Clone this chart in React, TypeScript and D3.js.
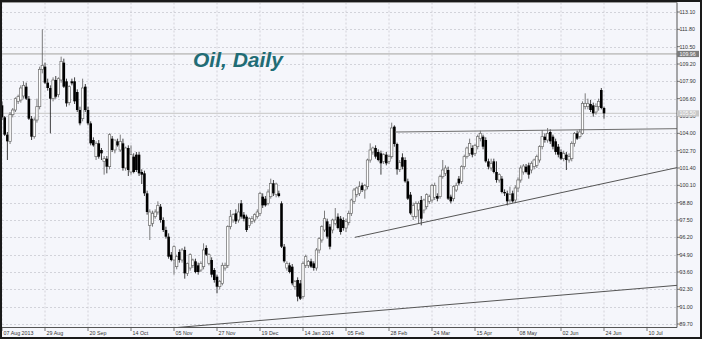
import React from 'react';
import * as d3 from 'd3';

const priceTicks = [113.1, 111.8, 110.5, 109.2, 107.9, 106.6, 105.3, 104.0, 102.7, 101.4, 100.1, 98.8, 97.5, 96.2, 94.9, 93.6, 92.3, 91.0, 89.7];
const dateLabels = ['07 Aug 2013', '29 Aug', '20 Sep', '14 Oct', '05 Nov', '27 Nov', '19 Dec', '14 Jan 2014', '05 Feb', '28 Feb', '24 Mar', '15 Apr', '08 May', '02 Jun', '24 Jun', '10 Jul'];
const dateBars = [0, 16, 32, 48, 64, 80, 96, 112, 128, 144, 160, 176, 192, 208, 224, 240];

const opens = [
  106.1, 105.2, 103.9, 103.4, 105.4, 105.75, 106.4, 106.5, 106.8, 107.5, 106.6, 105.1, 103.75, 105.0, 106.0, 108.8, 109.0, 107.8, 107.4, 106.6,
  108.0, 106.9, 108.0, 109.3, 107.9, 106.3, 107.9, 107.9, 107.1, 105.75, 105.1, 107.5, 105.75, 104.75, 103.5, 102.25, 103.25, 102.75, 101.9, 102.1,
  101.5, 103.6, 102.75, 103.4, 102.75, 103.25, 101.4, 102.9, 101.1, 102.25, 102.4, 102.4, 101.1, 101.0, 99.5, 97.1, 97.25, 97.75, 98.1, 98.5,
  97.5, 96.75, 96.25, 94.9, 94.5, 94.0, 95.1, 94.5, 95.25, 93.5, 93.9, 94.1, 94.4, 94.1, 93.75, 94.0, 95.4, 94.25, 94.5, 93.75,
  93.25, 92.5, 92.75, 93.9, 94.1, 97.0, 97.5, 98.0, 97.5, 98.75, 97.9, 97.75, 97.1, 97.4, 97.5, 97.75, 98.0, 99.25, 99.1, 98.75,
  99.25, 100.25, 99.4, 99.5, 98.75, 95.5, 93.9, 94.1, 94.0, 92.5, 93.0, 92.75, 91.75, 94.1, 94.1, 94.4, 94.25, 93.9, 95.25, 96.0,
  96.75, 97.4, 97.0, 96.75, 97.25, 97.75, 97.6, 97.5, 96.9, 97.3, 98.0, 98.9, 99.4, 99.5, 100.1, 99.75, 100.0, 102.0, 102.6, 102.9,
  102.6, 102.5, 101.9, 102.4, 101.9, 102.25, 104.5, 103.2, 101.3, 102.2, 102.0, 100.4, 99.4, 97.75, 97.75, 98.25, 99.0, 98.25, 98.5, 98.9,
  99.0, 99.2, 99.3, 99.25, 100.75, 101.0, 101.25, 99.25, 99.1, 99.75, 100.6, 100.4, 101.5, 102.25, 102.5, 102.9, 102.5, 103.0, 103.6, 103.75,
  103.5, 101.9, 101.4, 101.9, 101.1, 100.5, 100.6, 99.6, 99.5, 99.0, 99.5, 99.0, 99.9, 100.5, 101.1, 101.5, 101.6, 101.25, 101.5, 101.6,
  102.0, 103.0, 103.75, 103.5, 104.1, 103.75, 103.4, 103.0, 102.6, 102.1, 102.4, 102.0, 102.1, 103.25, 104.0, 103.75, 104.0, 106.0, 106.0, 106.2,
  106.1, 105.6, 106.0, 107.25, 105.9
];
const highs = [
  106.4, 105.3, 104.1, 105.6, 105.9, 106.7, 106.9, 107.6, 107.9, 107.8, 106.8, 105.3, 105.2, 106.6, 109.0, 111.8, 109.3, 108.1, 107.6, 108.2,
  108.3, 108.2, 109.75, 109.6, 108.1, 107.6, 108.1, 108.2, 107.3, 106.0, 108.1, 107.7, 106.0, 104.9, 103.7, 103.4, 103.5, 102.9, 102.3, 102.3,
  104.0, 103.8, 103.5, 103.6, 103.9, 103.6, 103.0, 103.1, 103.1, 102.5, 102.6, 102.6, 101.3, 101.2, 99.7, 98.3, 98.2, 98.3, 98.9, 98.7,
  97.7, 97.0, 96.5, 95.1, 95.6, 94.9, 95.3, 95.4, 95.5, 94.3, 95.0, 94.6, 94.6, 94.3, 94.4, 95.75, 95.6, 95.0, 94.7, 93.9,
  93.4, 93.0, 94.3, 94.3, 97.1, 98.25, 98.0, 98.3, 98.75, 99.0, 98.1, 97.9, 97.7, 97.8, 98.0, 98.3, 99.6, 99.5, 99.3, 99.8,
  100.6, 100.5, 100.3, 99.7, 98.9, 95.7, 94.4, 94.3, 94.2, 93.0, 93.2, 93.0, 94.4, 94.9, 94.5, 94.6, 94.4, 95.4, 96.2, 97.1,
  98.2, 97.6, 97.2, 97.6, 98.4, 98.0, 97.8, 97.7, 97.6, 98.2, 99.1, 99.9, 100.0, 100.4, 100.3, 100.2, 102.1, 103.25, 103.0, 103.1,
  102.8, 102.7, 102.5, 102.6, 102.4, 104.8, 104.6, 103.3, 102.0, 102.5, 102.2, 100.6, 99.6, 98.8, 98.9, 98.9, 99.3, 99.1, 99.5, 99.4,
  100.2, 100.3, 99.5, 100.9, 102.0, 101.6, 101.5, 99.4, 100.1, 100.3, 100.8, 101.6, 102.4, 103.0, 103.6, 103.1, 103.2, 103.9, 104.2, 103.9,
  103.7, 102.1, 102.1, 102.1, 101.9, 101.0, 100.8, 99.8, 99.7, 100.0, 99.7, 100.1, 100.7, 101.6, 101.7, 101.7, 101.8, 101.9, 102.1, 102.4,
  103.1, 104.25, 104.0, 104.4, 104.3, 103.9, 103.6, 103.2, 102.8, 102.7, 102.6, 102.5, 103.4, 104.1, 104.2, 104.3, 106.4, 107.0, 106.6, 106.5,
  106.3, 106.25, 106.6, 107.4, 106.0
];
const lows = [
  105.0, 103.8, 102.0, 103.2, 105.2, 105.6, 106.2, 106.3, 106.6, 106.5, 105.0, 103.5, 103.6, 104.8, 105.8, 108.5, 107.7, 107.2, 104.0, 106.4,
  106.6, 106.7, 107.8, 107.4, 106.0, 106.1, 107.6, 106.2, 105.6, 104.6, 104.9, 105.6, 104.6, 103.1, 103.0, 102.0, 102.1, 102.0, 100.9, 101.0,
  101.3, 102.6, 102.5, 103.0, 102.6, 101.2, 101.2, 100.8, 100.9, 101.0, 101.1, 100.8, 100.2, 99.3, 97.9, 96.0, 97.0, 97.6, 97.9, 97.3,
  96.6, 96.1, 94.6, 94.4, 93.4, 93.8, 94.3, 94.3, 93.1, 93.3, 93.7, 93.9, 93.5, 93.4, 93.6, 93.8, 94.8, 94.1, 93.2, 92.8,
  92.0, 92.3, 92.6, 93.7, 93.9, 96.8, 97.3, 97.2, 97.3, 97.6, 97.4, 96.6, 96.9, 97.2, 97.3, 97.6, 97.8, 98.4, 98.5, 98.6,
  99.1, 99.3, 99.2, 99.2, 95.4, 94.3, 93.7, 93.5, 92.6, 92.3, 91.4, 91.5, 91.6, 93.9, 93.9, 93.9, 93.7, 93.7, 95.0, 95.8,
  96.6, 96.1, 95.3, 96.5, 97.1, 96.8, 96.4, 96.7, 96.6, 97.1, 97.8, 98.7, 99.2, 99.3, 99.6, 99.1, 99.8, 101.8, 102.4, 102.1,
  101.9, 100.9, 101.7, 101.6, 101.7, 102.1, 103.0, 100.9, 101.1, 101.3, 100.3, 99.0, 97.9, 97.5, 97.6, 97.25, 97.1, 98.0, 98.3, 98.7,
  98.8, 99.0, 98.9, 99.1, 100.6, 100.8, 99.0, 98.75, 98.9, 99.6, 100.1, 100.2, 101.3, 102.1, 102.3, 102.2, 102.3, 102.8, 103.4, 102.8,
  101.8, 101.3, 101.2, 101.0, 100.3, 100.3, 99.5, 99.3, 98.6, 98.8, 98.8, 98.8, 99.6, 100.3, 100.9, 101.0, 100.6, 101.0, 101.3, 101.4,
  101.8, 102.8, 103.3, 103.3, 103.2, 102.8, 102.4, 102.2, 102.0, 101.9, 101.25, 101.8, 101.9, 103.0, 103.5, 103.6, 103.9, 105.8, 105.8, 105.6,
  105.25, 105.4, 105.7, 105.8, 105.1
];
const closes = [
  105.2, 103.9, 103.4, 105.4, 105.75, 106.6, 106.75, 107.4, 107.6, 106.6, 105.1, 103.75, 105.0, 106.0, 108.8, 109.1, 107.8, 107.4, 106.6, 108.0,
  106.75, 108.1, 109.4, 107.5, 106.25, 107.5, 107.75, 106.4, 105.75, 104.75, 107.4, 105.75, 104.75, 103.25, 103.1, 103.25, 102.25, 102.5, 102.1, 101.5,
  103.9, 102.75, 103.5, 103.1, 103.4, 101.4, 102.9, 101.25, 102.4, 101.1, 101.25, 101.0, 100.9, 99.5, 98.1, 98.1, 98.0, 98.1, 98.6, 97.5,
  96.75, 96.25, 94.75, 94.5, 95.5, 94.75, 94.5, 95.25, 93.5, 94.25, 94.9, 94.5, 93.6, 93.6, 94.25, 95.25, 94.9, 94.9, 93.4, 93.0,
  92.5, 92.9, 94.1, 94.1, 97.0, 97.75, 97.9, 97.4, 98.1, 97.75, 97.6, 96.75, 97.6, 97.6, 97.9, 98.1, 99.5, 98.6, 98.6, 99.6,
  100.25, 99.5, 100.2, 99.3, 95.5, 94.4, 94.25, 93.6, 92.75, 92.9, 91.75, 91.6, 94.25, 94.75, 94.4, 94.0, 93.9, 95.25, 96.1, 97.0,
  97.6, 96.25, 95.5, 97.5, 97.5, 96.9, 96.6, 96.9, 97.4, 98.0, 99.0, 99.75, 99.9, 100.0, 99.75, 100.1, 102.0, 102.75, 102.9, 102.25,
  102.0, 101.75, 102.4, 101.75, 102.25, 104.4, 103.2, 101.3, 101.8, 101.5, 100.4, 99.1, 98.0, 98.6, 98.75, 98.75, 97.6, 99.0, 99.4, 99.25,
  100.1, 100.1, 99.1, 100.75, 101.25, 101.4, 99.1, 98.9, 100.0, 100.1, 100.25, 101.5, 102.25, 102.9, 103.25, 102.4, 103.1, 103.75, 104.0, 103.0,
  101.9, 101.5, 101.75, 101.1, 100.5, 100.9, 99.6, 99.5, 98.9, 99.4, 98.9, 99.9, 100.5, 101.4, 101.55, 101.1, 100.9, 101.75, 102.0, 102.25,
  103.0, 103.75, 103.5, 104.0, 103.4, 103.0, 102.6, 102.4, 102.1, 102.5, 102.0, 102.25, 103.25, 104.0, 103.6, 104.1, 106.25, 106.25, 106.25, 105.75,
  105.5, 106.0, 106.4, 105.9, 105.5
];

// trend lines: [barIndex, price] endpoints
const resistanceLine = [[146.2, 104.1], [251.2, 104.35]];
const supportLine = [[131.3, 96.2], [251.2, 101.43]];
const longLine = [[61.8, 89.38], [251.2, 92.6]];
const levelLines = [109.96, 105.5];

const W = 702;
const H = 339;
const PL = 2;
const PR = 677;
const PT = 2.5;
const PB = 327.5;

export default function App() {
  const x = d3.scaleLinear().domain([0, 240]).range([2, 647]);
  const y = d3.scaleLinear().domain([89.7, 113.1]).range([324, 12]);
  const font = "'Liberation Sans', Arial, sans-serif";
  const line = d3.line<number[]>().x((d) => x(d[0])).y((d) => y(d[1]));

  return (
    <svg width={W} height={H} style={{ position: 'absolute', left: 0, top: 0, display: 'block' }}>
      <defs>
        <clipPath id="plot">
          <rect x={PL} y={PT} width={PR - PL} height={PB - PT} />
        </clipPath>
      </defs>
      <rect x={0} y={0} width={W} height={H} fill="#F5F6FB" />
      {/* grid */}
      <g stroke="#C9CAD2" strokeWidth={0.8} strokeDasharray="2,2">
        {priceTicks.map((v) => (
          <line key={'h' + v} x1={PL} x2={PR} y1={Math.round(y(v)) + 0.5} y2={Math.round(y(v)) + 0.5} />
        ))}
        {dateBars.map((b) => (
          <line key={'v' + b} x1={x(b)} x2={x(b)} y1={PT} y2={PB} />
        ))}
      </g>
      {/* level lines */}
      <line x1={PL} x2={PR} y1={y(levelLines[0])} y2={y(levelLines[0])} stroke="#C6C6C6" strokeWidth={1.6} />
      <line x1={PL} x2={PR} y1={y(levelLines[1])} y2={y(levelLines[1])} stroke="#D0D0D0" strokeWidth={1.2} />
      {/* candles */}
      <g clipPath="url(#plot)">
        {closes.map((c, i) => {
          const o = opens[i];
          const bull = c >= o;
          const cx = x(i);
          const top = y(Math.max(o, c));
          const bot = y(Math.min(o, c));
          const h = Math.max(bot - top, 0.8);
          return (
            <g key={i}>
              <line x1={cx} x2={cx} y1={y(highs[i])} y2={y(lows[i])} stroke={bull ? '#5c5c5c' : '#111'} strokeWidth={0.8} />
              {bull ? (
                <rect x={cx - 1.2} y={top} width={2.4} height={h} fill="#FFFFFF" stroke="#6a6a6a" strokeWidth={0.7} />
              ) : (
                <rect x={cx - 1.3} y={top} width={2.6} height={h} fill="#000" />
              )}
            </g>
          );
        })}
        <path d={line(resistanceLine) || ''} stroke="#6d6d6d" strokeWidth={1} fill="none" />
        <path d={line(supportLine) || ''} stroke="#555" strokeWidth={1} fill="none" />
        <path d={line(longLine) || ''} stroke="#555" strokeWidth={1} fill="none" />
      </g>
      {/* frame of plot */}
      <line x1={PL} x2={PR} y1={PT} y2={PT} stroke="#9a9a9a" strokeWidth={1} />
      <line x1={PR} x2={PR} y1={PT} y2={PB} stroke="#555" strokeWidth={1} />
      <line x1={PL} x2={PR} y1={PB} y2={PB} stroke="#555" strokeWidth={1} />
      {/* y axis ticks and labels */}
      <g fontFamily={font} fontSize={5.3} fill="#333">
        {priceTicks.map((v) => (
          <g key={'yl' + v}>
            <line x1={PR} x2={PR + 3} y1={y(v)} y2={y(v)} stroke="#555" strokeWidth={0.8} />
            <text x={679.5} y={y(v)} dominantBaseline="central">{v.toFixed(2)}</text>
          </g>
        ))}
        {dateBars.map((b, i) => (
          <g key={'xl' + b}>
            <line x1={x(b)} x2={x(b)} y1={PB} y2={PB + 3.5} stroke="#555" strokeWidth={0.8} />
            <text x={x(b) + 1.6} y={335.2}>{dateLabels[i]}</text>
          </g>
        ))}
      </g>
      {/* level boxes */}
      <g fontFamily={font} fontSize={5.3}>
        <rect x={PR} y={y(levelLines[0]) - 3} width={22} height={6.2} fill="#7c7c7c" />
        <text x={679.5} y={y(levelLines[0])} dominantBaseline="central" fill="#fff">{levelLines[0].toFixed(2)}</text>
        <rect x={PR} y={y(levelLines[1]) - 3} width={22} height={6.2} fill="#c8c8c8" />
        <text x={679.5} y={y(levelLines[1])} dominantBaseline="central" fill="#fff">{levelLines[1].toFixed(2)}</text>
      </g>
      {/* title */}
      <text x={193} y={67} fontFamily={font} fontSize={21} fontWeight="bold" fontStyle="italic" fill="#216C75">Oil, Daily</text>
      {/* outer border */}
      <rect x={1} y={1} width={W - 2} height={H - 2} fill="none" stroke="#1a1a1a" strokeWidth={2} />
    </svg>
  );
}
